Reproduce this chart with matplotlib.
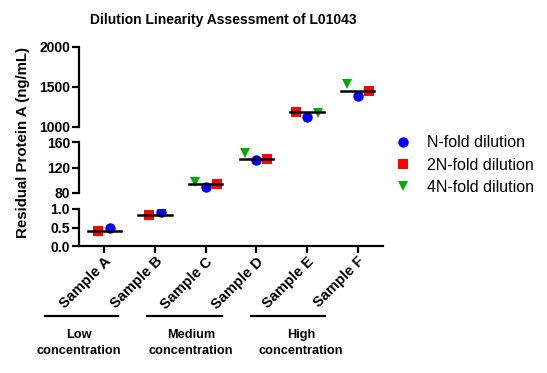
import matplotlib
matplotlib.use("Agg")
import matplotlib.pyplot as plt
from matplotlib.lines import Line2D
import numpy as np

plt.rcParams['font.family'] = ['Liberation Sans', 'DejaVu Sans']

samples = ["Sample A", "Sample B", "Sample C", "Sample D", "Sample E", "Sample F"]
n_fold = [0.49, 0.93, 89, 131, 1121, 1391]
n2_fold = [0.41, 0.83, 94, 134, 1183, 1446]
n4_fold = [np.nan, np.nan, 98, 142, 1171, 1534]
reference_line = [0.41, 0.83, 94, 134, 1183, 1450]
groups = ["Low\nconcentration", "Medium\nconcentration", "High\nconcentration"]

series = [
    ("N-fold dilution", n_fold, "o", "#0000FF", [0.12, 0.12, 0, 0, 0, 0]),
    ("2N-fold dilution", n2_fold, "s", "#FF0000", [-0.12, -0.12, 0.22, 0.22, -0.22, 0.22]),
    ("4N-fold dilution", n4_fold, "v", "#00AA00", [0, 0, -0.22, -0.22, 0.22, -0.22]),
]

W, H = 547, 373
fig = plt.figure(figsize=(W / 100, H / 100), dpi=100)

def ax_at(left, top, right, bottom):
    return fig.add_axes([left / W, 1 - bottom / H, (right - left) / W, (bottom - top) / H])

ax_top = ax_at(79, 47, 383, 127)
ax_mid = ax_at(79, 142, 383, 193)
ax_bot = ax_at(79, 209, 383, 246)

segments = [
    (ax_top, (1000, 2000), [1000, 1500, 2000], ["1000", "1500", "2000"]),
    (ax_mid, (80, 160), [80, 120, 160], ["80", "120", "160"]),
    (ax_bot, (0, 1.0), [0.0, 0.5, 1.0], ["0.0", "0.5", "1.0"]),
]

x = np.arange(len(samples))
for ax, lim, ticks, labels in segments:
    for name, vals, mk, col, off in series:
        ax.plot(x + np.array(off), vals, linestyle="none", marker=mk, color=col,
                markersize=7.5, markeredgewidth=0, zorder=3, label=name)
    for xi, v in zip(x, reference_line):
        ax.plot([xi - 0.33, xi + 0.33], [v, v], color="black", lw=1.8, zorder=4)
    ax.set_ylim(*lim)
    ax.set_xlim(-0.5, 5.5)
    ax.set_yticks(ticks)
    ax.set_yticklabels(labels, fontsize=10, fontweight="bold")
    for s in ["top", "right", "bottom"]:
        ax.spines[s].set_visible(False)
    ax.spines["left"].set_linewidth(1.6)
    ax.tick_params(axis="y", width=1.6, length=5, pad=1.5)
    ax.set_xticks([])
    ax.patch.set_alpha(0)

ax_bot.spines["bottom"].set_visible(True)
ax_bot.spines["bottom"].set_linewidth(1.6)
ax_bot.set_xticks(x)
ax_bot.set_xticklabels(samples, rotation=45, ha="right", rotation_mode="anchor",
                       fontsize=10.5, fontweight="bold")
ax_bot.tick_params(axis="x", width=1.6, length=5, pad=1)

fig.text(223 / W, 1 - 20 / H, "Dilution Linearity Assessment of L01043",
         ha="center", va="center", fontsize=10, fontweight="bold")
fig.text(23 / W, 1 - 142 / H, "Residual Protein A (ng/mL)", rotation=90,
         ha="center", va="center", fontsize=10.8, fontweight="bold")

group_spans = [(45, 118, 79), (147, 222, 191), (251, 325, 301)]
for (x0, x1, xc), g in zip(group_spans, groups):
    fig.add_artist(Line2D([x0 / W, x1 / W], [1 - 316 / H, 1 - 316 / H],
                          color="black", lw=1.6))
    fig.text(xc / W, 1 - 343 / H, g, ha="center", va="center", fontsize=9.2,
             fontweight="bold", linespacing=1.4)

handles = [Line2D([], [], linestyle="none", marker=mk, color=col, markersize=7.5,
                  markeredgewidth=0) for _, _, mk, col, _ in series]
fig.legend(handles, [s[0] for s in series], loc="center left",
           bbox_to_anchor=(379 / W, 1 - 165 / H), frameon=False, fontsize=11.5,
           handletextpad=0.9, labelspacing=0.45, handlelength=1.2)

fig.savefig("out.png", dpi=100)
